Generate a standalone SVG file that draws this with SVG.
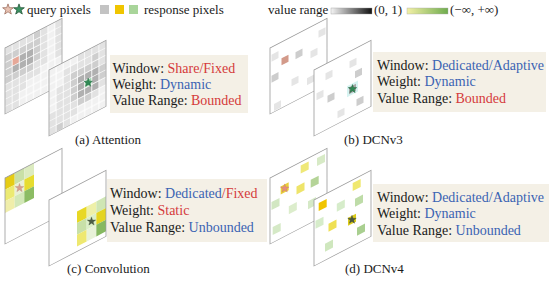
<svg xmlns="http://www.w3.org/2000/svg" width="550" height="281" viewBox="0 0 550 281">
<style>
.pl{fill:#fff;stroke:none}
.bd{fill:none;stroke:#9a9a9a;stroke-width:0.8}
.g1{fill:#e2e2e2}.g2{fill:#cecece}.g3{fill:#b0b0b0}
.l{fill:#e5e5e5}.m{fill:#cdcdcd}.dk{fill:#a8a8a8}
.box{fill:#f4f0e6}
.t{font-family:"Liberation Serif","Times New Roman",serif;font-size:14px;fill:#1a1a1a}
.s{font-family:"Liberation Serif","Times New Roman",serif;font-size:13px;fill:#1a1a1a}
.r{fill:#d43b3b}.b{fill:#3b63b3}
</style>
<defs>
<pattern id="grid" width="7.125" height="7.3333" patternUnits="userSpaceOnUse"><rect x="0.5" y="0.5" width="6.2" height="6.4" fill="#f1f1f1"/></pattern>
<path id="star" d="M0,-4.5 L1.06,-1.46 L4.28,-1.39 L1.71,0.56 L2.65,3.64 L0,1.8 L-2.65,3.64 L-1.71,0.56 L-4.28,-1.39 L-1.06,-1.46 Z"/>
<linearGradient id="gg" x1="0" x2="1" y1="0" y2="0"><stop offset="0" stop-color="#f4f4f4"/><stop offset="1" stop-color="#111"/></linearGradient>
<linearGradient id="yg" x1="0" x2="1" y1="0" y2="0"><stop offset="0" stop-color="#f3f0a6"/><stop offset="1" stop-color="#6fac4e"/></linearGradient>
</defs>

<g id="legend">
<use href="#star" transform="translate(8,9.5) scale(1.25)" fill="#e8c2b2" stroke="#9a6a5a" stroke-width="0.6"/>
<use href="#star" transform="translate(19,9.5) scale(1.25)" fill="#3a9262" stroke="#1f5233" stroke-width="0.6"/>
<text class="s" x="27" y="14">query pixels</text>
<rect x="100" y="5" width="9" height="9" fill="#c3c3c3"/>
<rect x="115" y="5" width="9" height="9" fill="#f0c500"/>
<rect x="129" y="5" width="9" height="9" fill="#a9d59a"/>
<text class="s" x="144" y="14">response pixels</text>
<text class="s" x="268" y="14">value range</text>
<rect x="331" y="8" width="41" height="6" fill="url(#gg)" stroke="#999" stroke-width="0.4"/>
<text class="s" x="374" y="14">(0, 1)</text>
<rect x="407" y="8" width="41" height="6" fill="url(#yg)" stroke="#aaa" stroke-width="0.4"/>
<text class="s" x="450" y="14">(−∞, +∞)</text>
</g>

<g id="attention">
<g id="attention-back" transform="matrix(1,-0.52,0,1,5,48)">
<rect class="pl" width="57" height="66"/><rect width="57" height="66" fill="url(#grid)"/>
<g>
<rect class="g1" x="0.5" y="0.5" width="6.2" height="6.4"/><rect class="g1" x="7.6" y="0.5" width="6.2" height="6.4"/><rect class="g1" x="14.75" y="0.5" width="6.2" height="6.4"/><rect class="g1" x="21.9" y="0.5" width="6.2" height="6.4"/><rect class="g2" x="29" y="0.5" width="6.2" height="6.4"/><rect class="g1" x="36.1" y="0.5" width="6.2" height="6.4"/><rect class="g1" x="50.4" y="0.5" width="6.2" height="6.4"/>
<rect class="g2" x="0.5" y="7.8" width="6.2" height="6.4"/><rect class="g2" x="7.6" y="7.8" width="6.2" height="6.4"/><rect class="g2" x="14.75" y="7.8" width="6.2" height="6.4"/><rect class="g2" x="21.9" y="7.8" width="6.2" height="6.4"/><rect class="g2" x="29" y="7.8" width="6.2" height="6.4"/><rect class="g1" x="36.1" y="7.8" width="6.2" height="6.4"/><rect class="g1" x="50.4" y="7.8" width="6.2" height="6.4"/>
<rect class="g2" x="0.5" y="15.2" width="6.2" height="6.4"/><rect fill="#e6a898" x="7.6" y="15.2" width="6.2" height="6.4"/><rect class="g3" x="14.75" y="15.2" width="6.2" height="6.4"/><rect class="g3" x="21.9" y="15.2" width="6.2" height="6.4"/><rect class="g2" x="29" y="15.2" width="6.2" height="6.4"/><rect class="g1" x="36.1" y="15.2" width="6.2" height="6.4"/><rect class="g1" x="50.4" y="15.2" width="6.2" height="6.4"/>
<rect class="g2" x="0.5" y="22.5" width="6.2" height="6.4"/><rect class="g3" x="7.6" y="22.5" width="6.2" height="6.4"/><rect class="g3" x="14.75" y="22.5" width="6.2" height="6.4"/><rect class="g3" x="21.9" y="22.5" width="6.2" height="6.4"/><rect class="g2" x="29" y="22.5" width="6.2" height="6.4"/><rect class="g1" x="36.1" y="22.5" width="6.2" height="6.4"/><rect class="g1" x="50.4" y="22.5" width="6.2" height="6.4"/>
<rect class="g2" x="0.5" y="29.8" width="6.2" height="6.4"/><rect class="g2" x="7.6" y="29.8" width="6.2" height="6.4"/><rect class="g2" x="14.75" y="29.8" width="6.2" height="6.4"/><rect class="g2" x="21.9" y="29.8" width="6.2" height="6.4"/><rect class="g1" x="29" y="29.8" width="6.2" height="6.4"/><rect class="g1" x="36.1" y="29.8" width="6.2" height="6.4"/><rect class="g1" x="50.4" y="29.8" width="6.2" height="6.4"/>
<rect class="g1" x="0.5" y="37.2" width="6.2" height="6.4"/><rect class="g1" x="7.6" y="37.2" width="6.2" height="6.4"/><rect class="g1" x="14.75" y="37.2" width="6.2" height="6.4"/><rect class="g1" x="21.9" y="37.2" width="6.2" height="6.4"/><rect class="g1" x="29" y="37.2" width="6.2" height="6.4"/>
<rect class="g1" x="0.5" y="44.5" width="6.2" height="6.4"/><rect class="g1" x="7.6" y="44.5" width="6.2" height="6.4"/><rect class="g1" x="14.75" y="44.5" width="6.2" height="6.4"/>
<rect class="g1" x="0.5" y="51.8" width="6.2" height="6.4"/><rect class="g1" x="7.6" y="51.8" width="6.2" height="6.4"/>
<rect class="g1" x="0.5" y="59.1" width="6.2" height="6.4"/><rect class="g1" x="7.6" y="59.1" width="6.2" height="6.4"/>
</g>
<rect class="bd" width="57" height="66"/>
</g>
<g id="attention-front" transform="matrix(1,-0.52,0,1,49,70)">
<rect class="pl" width="57" height="66"/><rect width="57" height="66" fill="url(#grid)"/>
<g>
<rect class="g1" x="29" y="0.5" width="6.2" height="6.4"/><rect class="g1" x="36.1" y="0.5" width="6.2" height="6.4"/><rect class="g1" x="43.25" y="0.5" width="6.2" height="6.4"/><rect class="g1" x="50.4" y="0.5" width="6.2" height="6.4"/>
<rect class="g1" x="14.75" y="7.8" width="6.2" height="6.4"/><rect class="g1" x="21.9" y="7.8" width="6.2" height="6.4"/><rect class="g1" x="29" y="7.8" width="6.2" height="6.4"/><rect class="g1" x="36.1" y="7.8" width="6.2" height="6.4"/><rect class="g2" x="43.25" y="7.8" width="6.2" height="6.4"/><rect class="g1" x="50.4" y="7.8" width="6.2" height="6.4"/>
<rect class="g1" x="14.75" y="15.2" width="6.2" height="6.4"/><rect class="g2" x="21.9" y="15.2" width="6.2" height="6.4"/><rect class="g2" x="29" y="15.2" width="6.2" height="6.4"/><rect class="g2" x="36.1" y="15.2" width="6.2" height="6.4"/><rect class="g2" x="43.25" y="15.2" width="6.2" height="6.4"/><rect class="g1" x="50.4" y="15.2" width="6.2" height="6.4"/>
<rect class="g1" x="7.6" y="22.5" width="6.2" height="6.4"/><rect class="g1" x="14.75" y="22.5" width="6.2" height="6.4"/><rect class="g2" x="21.9" y="22.5" width="6.2" height="6.4"/><rect class="g3" x="29" y="22.5" width="6.2" height="6.4"/><rect class="g3" x="36.1" y="22.5" width="6.2" height="6.4"/><rect class="g3" x="43.25" y="22.5" width="6.2" height="6.4"/><rect class="g2" x="50.4" y="22.5" width="6.2" height="6.4"/>
<rect class="g1" x="7.6" y="29.8" width="6.2" height="6.4"/><rect class="g1" x="14.75" y="29.8" width="6.2" height="6.4"/><rect class="g2" x="21.9" y="29.8" width="6.2" height="6.4"/><rect class="g3" x="29" y="29.8" width="6.2" height="6.4"/><rect fill="#9fd6ae" x="36.1" y="29.8" width="6.2" height="6.4"/><rect class="g3" x="43.25" y="29.8" width="6.2" height="6.4"/><rect class="g2" x="50.4" y="29.8" width="6.2" height="6.4"/>
<rect class="g1" x="7.6" y="37.2" width="6.2" height="6.4"/><rect class="g1" x="14.75" y="37.2" width="6.2" height="6.4"/><rect class="g2" x="21.9" y="37.2" width="6.2" height="6.4"/><rect class="g3" x="29" y="37.2" width="6.2" height="6.4"/><rect class="g3" x="36.1" y="37.2" width="6.2" height="6.4"/><rect class="g3" x="43.25" y="37.2" width="6.2" height="6.4"/><rect class="g1" x="50.4" y="37.2" width="6.2" height="6.4"/>
<rect class="g1" x="0.5" y="44.5" width="6.2" height="6.4"/><rect class="g1" x="7.6" y="44.5" width="6.2" height="6.4"/><rect class="g1" x="14.75" y="44.5" width="6.2" height="6.4"/><rect class="g1" x="21.9" y="44.5" width="6.2" height="6.4"/><rect class="g2" x="29" y="44.5" width="6.2" height="6.4"/><rect class="g2" x="36.1" y="44.5" width="6.2" height="6.4"/><rect class="g1" x="43.25" y="44.5" width="6.2" height="6.4"/>
<rect class="g1" x="0.5" y="51.8" width="6.2" height="6.4"/><rect class="g1" x="7.6" y="51.8" width="6.2" height="6.4"/><rect class="g1" x="14.75" y="51.8" width="6.2" height="6.4"/><rect class="g1" x="21.9" y="51.8" width="6.2" height="6.4"/>
<rect class="g1" x="0.5" y="59.1" width="6.2" height="6.4"/><rect class="g2" x="7.6" y="59.1" width="6.2" height="6.4"/><rect class="g1" x="14.75" y="59.1" width="6.2" height="6.4"/>
</g>
<rect class="bd" width="57" height="66"/>
</g>
<use href="#star" transform="translate(88.2,82.6)" fill="#2f8a55" stroke="#1d5a35" stroke-width="0.4"/>
<rect class="box" x="110" y="55" width="138" height="58"/>
<text class="t" x="112.5" y="72.5">Window: <tspan class="r">Share/Fixed</tspan></text>
<text class="t" x="112.5" y="88.8">Weight: <tspan class="b">Dynamic</tspan></text>
<text class="t" x="112.5" y="105">Value Range: <tspan class="r">Bounded</tspan></text>
<text class="s" x="75" y="144">(a) Attention</text>
</g>

<g id="dcnv3">
<g id="dcnv3-back" transform="matrix(1,-0.52,0,1,270,48)">
<rect class="pl" width="57" height="66"/>
<rect class="l" x="1.5" y="7.5" width="7" height="7"/>
<rect fill="#d39a8a" x="11.5" y="16.3" width="7" height="7"/>
<rect class="m" x="25.5" y="17.5" width="7" height="7"/>
<rect class="l" x="40.5" y="24.4" width="7" height="7"/>
<rect class="l" x="48.5" y="8" width="7" height="7"/>
<rect class="m" x="1.5" y="28.5" width="7" height="7"/>
<rect class="l" x="21.5" y="42.5" width="7" height="7"/>
<rect class="l" x="37" y="49.5" width="7" height="7"/>
<rect class="l" x="4" y="58" width="7" height="7"/>
<rect class="bd" width="57" height="66"/>
</g>
<g id="dcnv3-front" transform="matrix(1,-0.52,0,1,314,70)">
<rect class="pl" width="57" height="66"/>
<rect class="l" x="11.5" y="9.3" width="7" height="7"/>
<rect class="l" x="35.5" y="9.8" width="7" height="7"/>
<rect class="m" x="41" y="22.6" width="7" height="7"/>
<rect fill="#d6f3f1" x="33" y="33.5" width="11" height="11"/>
<rect class="dk" x="35" y="35.5" width="7" height="7"/>
<rect class="m" x="13.5" y="32.8" width="7" height="7"/>
<rect class="m" x="42.5" y="51.4" width="7" height="7"/>
<rect class="l" x="2.5" y="24.6" width="7" height="7"/>
<rect class="l" x="23.5" y="53.5" width="7" height="7"/>
<rect class="bd" width="57" height="66"/>
</g>
<use href="#star" transform="translate(352.5,89)" fill="#2f8a55" stroke="#1d5a35" stroke-width="0.4"/>
<rect class="box" x="373" y="52" width="173" height="60"/>
<text class="t" x="377" y="69.5">Window: <tspan class="b">Dedicated/Adaptive</tspan></text>
<text class="t" x="377" y="86.2">Weight: <tspan class="b">Dynamic</tspan></text>
<text class="t" x="377" y="103">Value Range: <tspan class="r">Bounded</tspan></text>
<text class="s" x="344" y="144">(b) DCNv3</text>
</g>

<g id="convolution">
<g id="convolution-back" transform="matrix(1,-0.52,0,1,5,178)">
<rect class="pl" width="57" height="66"/>
<rect fill="#e6cc14" x="0" y="0" width="9.67" height="11.67"/>
<rect fill="#c9e0a6" x="9.67" y="0" width="9.67" height="11.67"/>
<rect fill="#dcebc0" x="19.33" y="0" width="9.67" height="11.67"/>
<rect fill="#ecea72" x="0" y="11.67" width="9.67" height="11.67"/>
<rect fill="#e9f0d6" x="9.67" y="11.67" width="9.67" height="11.67"/>
<rect fill="#e6dc30" x="19.33" y="11.67" width="9.67" height="11.67"/>
<rect fill="#f0eeaa" x="0" y="23.33" width="9.67" height="11.67"/>
<rect fill="#d3e8b8" x="9.67" y="23.33" width="9.67" height="11.67"/>
<rect fill="#8cbc64" x="19.33" y="23.33" width="9.67" height="11.67"/>
<rect class="bd" width="57" height="66"/>
</g>
<g id="convolution-front" transform="matrix(1,-0.52,0,1,49,200)">
<rect class="pl" width="57" height="66"/>
<rect fill="#e8d824" x="28" y="26" width="9.67" height="11.67"/>
<rect fill="#c8e0a8" x="28" y="37.67" width="9.67" height="11.67"/>
<rect fill="#eee870" x="28" y="49.33" width="9.67" height="11.67"/>
<rect fill="#eef0a8" x="37.67" y="26" width="9.67" height="11.67"/>
<rect fill="#dcefc8" x="37.67" y="37.67" width="9.67" height="11.67"/>
<rect fill="#e8f2d8" x="37.67" y="49.33" width="9.67" height="11.67"/>
<rect fill="#cfe6b4" x="47.33" y="26" width="9.67" height="11.67"/>
<rect fill="#e4d420" x="47.33" y="37.67" width="9.67" height="11.67"/>
<rect fill="#86b860" x="47.33" y="49.33" width="9.67" height="11.67"/>
<rect class="bd" width="57" height="66"/>
</g>
<use href="#star" transform="translate(19.5,188)" fill="#d9a08e" stroke="#b07c6c" stroke-width="0.3"/>
<use href="#star" transform="translate(91.5,221.4)" fill="#4d5d45" stroke="#3a4634" stroke-width="0.3"/>
<rect class="box" x="107" y="179" width="160" height="63"/>
<text class="t" x="110" y="198">Window: <tspan class="b">Dedicated</tspan><tspan class="r">/Fixed</tspan></text>
<text class="t" x="110" y="215">Weight: <tspan class="r">Static</tspan></text>
<text class="t" x="110" y="232">Value Range: <tspan class="b">Unbounded</tspan></text>
<text class="s" x="67" y="273">(c) Convolution</text>
</g>

<g id="dcnv4">
<g id="dcnv4-back" transform="matrix(1,-0.52,0,1,270,178)">
<rect class="pl" width="57" height="66"/>
<rect fill="#efe878" x="30.7" y="3.5" width="8" height="8"/>
<rect fill="#d7eac6" x="47" y="4.5" width="8" height="8"/>
<rect fill="#e9cf3a" x="10.7" y="14" width="8" height="8"/>
<rect fill="#eee46a" x="26.5" y="22.2" width="8" height="8"/>
<rect fill="#b5d498" x="40.7" y="23" width="8" height="8"/>
<rect fill="#d2e7c2" x="1.5" y="24.9" width="8" height="8"/>
<rect fill="#dcedcc" x="18.8" y="38" width="8" height="8"/>
<rect fill="#d5e9c6" x="2.7" y="50.5" width="8" height="8"/>
<rect fill="#d5e9c6" x="38" y="43" width="8" height="8"/>
<rect class="bd" width="57" height="66"/>
</g>
<g id="dcnv4-front" transform="matrix(1,-0.52,0,1,314,200)">
<rect class="pl" width="57" height="66"/>
<rect fill="#f0e86e" x="38.7" y="3.2" width="8" height="8"/>
<rect fill="#f0c400" x="4.7" y="5.5" width="8" height="8"/>
<rect fill="#d6ecca" x="22.8" y="15.6" width="8" height="8"/>
<rect fill="#bedca8" x="41" y="20.1" width="8" height="8"/>
<rect fill="#efe054" x="14.5" y="31.3" width="8" height="8"/>
<rect fill="#dccc1c" x="34" y="35.5" width="8" height="8"/>
<rect fill="#d6ecca" x="1.5" y="21.6" width="8" height="8"/>
<rect fill="#a9cf90" x="43" y="50" width="8" height="8"/>
<rect fill="#cfe7be" x="11" y="49.5" width="8" height="8"/>
<rect class="bd" width="57" height="66"/>
</g>
<use href="#star" transform="translate(284.7,188.4)" fill="#e58f80" stroke="#c07060" stroke-width="0.3"/>
<use href="#star" transform="translate(352,219.7)" fill="#4a5840" stroke="#37412f" stroke-width="0.3"/>
<rect class="box" x="373" y="184" width="176" height="58"/>
<text class="t" x="377" y="201.5">Window: <tspan class="b">Dedicated/Adaptive</tspan></text>
<text class="t" x="377" y="218">Weight: <tspan class="b">Dynamic</tspan></text>
<text class="t" x="377" y="234.7">Value Range: <tspan class="b">Unbounded</tspan></text>
<text class="s" x="345" y="273">(d) DCNv4</text>
</g>
</svg>
